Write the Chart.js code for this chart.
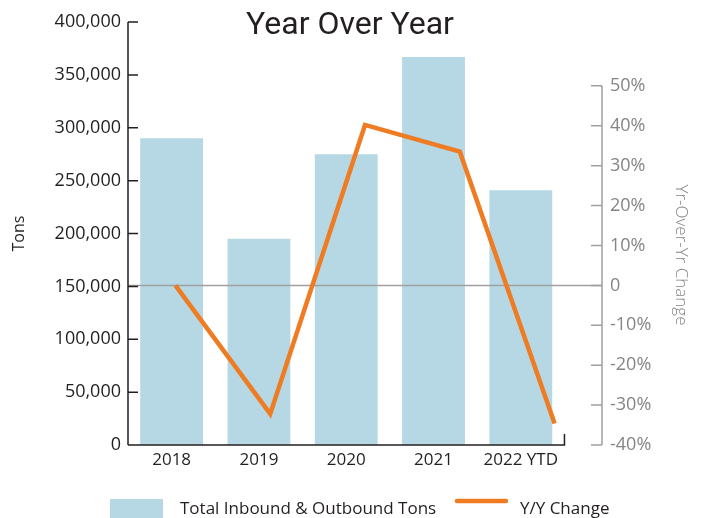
<!DOCTYPE html>
<html>
<head>
<meta charset="utf-8">
<title>Year Over Year</title>
<script src="https://cdn.jsdelivr.net/npm/chart.js@4.4.1/dist/chart.umd.min.js"></script>
<style>
  html, body { margin: 0; padding: 0; background: #fff; }
</style>
</head>
<body>
<canvas id="yoyChart" width="704" height="518"></canvas>
<script>
const years = ["2018", "2019", "2020", "2021", "2022 YTD"];
const tons = [290000, 195000, 275000, 367000, 241000];
const yoyChange = [0, -32.2, 40.2, 33.5, -34.6];
const tonTicks = [0, 50000, 100000, 150000, 200000, 250000, 300000, 350000, 400000];
const pctTicks = [-40, -30, -20, -10, 0, 10, 20, 30, 40, 50];

const barBlue = "#b6d8e4";
const lineOrange = "#ef7b22";
const inkDark = "#231f20";
const axisGray = "#a0a0a0";
const labelGray = "#858585";

Chart.defaults.font.family = "'Open Sans', sans-serif";

// axis lines with inward ticks, zero line, title, legend
const decorPlugin = {
  id: "decor",
  afterDatasetDraw(chart, args) {
    if (args.meta.type !== "bar") return;
    const { ctx, chartArea, scales } = chart;
    const y0 = scales.y1.getPixelForValue(0);
    ctx.save();
    ctx.strokeStyle = axisGray;
    ctx.lineWidth = 1.5;
    ctx.beginPath();
    ctx.moveTo(chartArea.left, y0);
    ctx.lineTo(chartArea.right, y0);
    ctx.stroke();
    ctx.restore();
  },
  afterDraw(chart) {
    const { ctx, chartArea, scales } = chart;
    const left = chartArea.left, right = chartArea.right;
    ctx.save();

    // left axis
    ctx.strokeStyle = inkDark;
    ctx.lineWidth = 1.5;
    ctx.beginPath();
    ctx.moveTo(left, scales.y.getPixelForValue(tonTicks[tonTicks.length - 1]));
    ctx.lineTo(left, scales.y.getPixelForValue(0));
    tonTicks.forEach(v => {
      const py = scales.y.getPixelForValue(v);
      ctx.moveTo(left, py);
      ctx.lineTo(left + 10, py);
    });
    // bottom axis
    const yb = scales.y.getPixelForValue(0);
    const xEnd = scales.xb.getPixelForValue(years.length - 0.5);
    ctx.moveTo(left, yb);
    ctx.lineTo(xEnd, yb);
    ctx.lineTo(xEnd, yb - 11);
    ctx.stroke();

    // right axis
    ctx.strokeStyle = axisGray;
    ctx.beginPath();
    ctx.moveTo(right, scales.y1.getPixelForValue(pctTicks[0]));
    ctx.lineTo(right, scales.y1.getPixelForValue(pctTicks[pctTicks.length - 1]));
    pctTicks.forEach(v => {
      const py = scales.y1.getPixelForValue(v);
      ctx.moveTo(right, py);
      ctx.lineTo(right - 11, py);
    });
    ctx.stroke();

    // right axis title
    ctx.save();
    ctx.translate(681, 255);
    ctx.rotate(Math.PI / 2);
    ctx.fillStyle = labelGray;
    ctx.font = "300 17px 'Open Sans'";
    ctx.textAlign = "center";
    ctx.textBaseline = "middle";
    ctx.fillText("Yr-Over-Yr Change", 0, 0);
    ctx.restore();

    // chart title
    ctx.fillStyle = inkDark;
    ctx.font = "32px Roboto";
    ctx.textAlign = "center";
    ctx.textBaseline = "alphabetic";
    ctx.fillText("Year Over Year", 350, 34);

    // legend
    const ds = chart.data.datasets;
    ctx.font = "17px 'Open Sans'";
    ctx.textAlign = "left";
    ctx.fillStyle = barBlue;
    ctx.fillRect(110, 499, 53, 19);
    ctx.fillStyle = inkDark;
    ctx.fillText(ds[0].label, 180, 514);
    ctx.strokeStyle = lineOrange;
    ctx.lineWidth = 4.5;
    ctx.lineCap = "round";
    ctx.beginPath();
    ctx.moveTo(457, 501);
    ctx.lineTo(506, 501);
    ctx.stroke();
    ctx.fillText(ds[1].label, 520, 514);

    ctx.restore();
  }
};

new Chart(document.getElementById("yoyChart"), {
  type: "bar",
  data: {
    labels: years,
    datasets: [
      {
        label: "Total Inbound & Outbound Tons",
        data: tons.map((t, i) => ({ x: i, y: t })),
        backgroundColor: barBlue,
        xAxisID: "xb",
        yAxisID: "y",
        grouped: false,
        categoryPercentage: 0.8,
        barPercentage: 0.9,
        order: 2
      },
      {
        type: "line",
        label: "Y/Y Change",
        data: yoyChange,
        borderColor: lineOrange,
        borderWidth: 4.5,
        borderJoinStyle: "miter",
        pointRadius: 0,
        tension: 0,
        fill: false,
        xAxisID: "x",
        yAxisID: "y1",
        order: 1
      }
    ]
  },
  options: {
    responsive: false,
    animation: false,
    devicePixelRatio: 1,
    layout: { padding: { top: 22, left: 0, right: 0, bottom: 0 } },
    plugins: {
      legend: { display: false },
      tooltip: { enabled: false }
    },
    scales: {
      x: { type: "category", display: false, offset: true },
      xb: {
        type: "linear",
        position: "bottom",
        offset: false,
        min: -0.5,
        max: 4.93,
        grid: { display: false, drawTicks: false, tickLength: 0, offset: false },
        border: { display: false },
        afterBuildTicks(scale) {
          scale.ticks = years.map((_, i) => ({ value: i }));
        },
        afterFit(scale) { scale.height = 73; },
        ticks: {
          color: inkDark,
          font: { size: 17 },
          padding: 5,
          callback: v => years[v]
        }
      },
      y: {
        position: "left",
        min: tonTicks[0],
        max: tonTicks[tonTicks.length - 1],
        grid: { display: false, drawTicks: false, tickLength: 0 },
        border: { display: false },
        afterFit(scale) { scale.width = 128; },
        ticks: {
          stepSize: tonTicks[1] - tonTicks[0],
          color: inkDark,
          font: { size: 18 },
          padding: 7,
          callback: v => v.toLocaleString("en-US")
        },
        title: {
          display: true,
          text: "Tons",
          color: inkDark,
          font: { size: 16 },
          padding: { top: 10, bottom: 0 }
        }
      },
      y1: {
        position: "right",
        min: pctTicks[0],
        max: 66,
        grid: { display: false, drawTicks: false, tickLength: 0 },
        border: { display: false },
        afterFit(scale) { scale.width = 102; },
        afterBuildTicks(scale) {
          scale.ticks = pctTicks.map(v => ({ value: v }));
        },
        ticks: {
          color: labelGray,
          font: { size: 18 },
          padding: 8,
          callback: v => (v === 0 ? "0" : v + "%")
        }
      }
    }
  },
  plugins: [decorPlugin]
});
</script>
</body>
</html>
